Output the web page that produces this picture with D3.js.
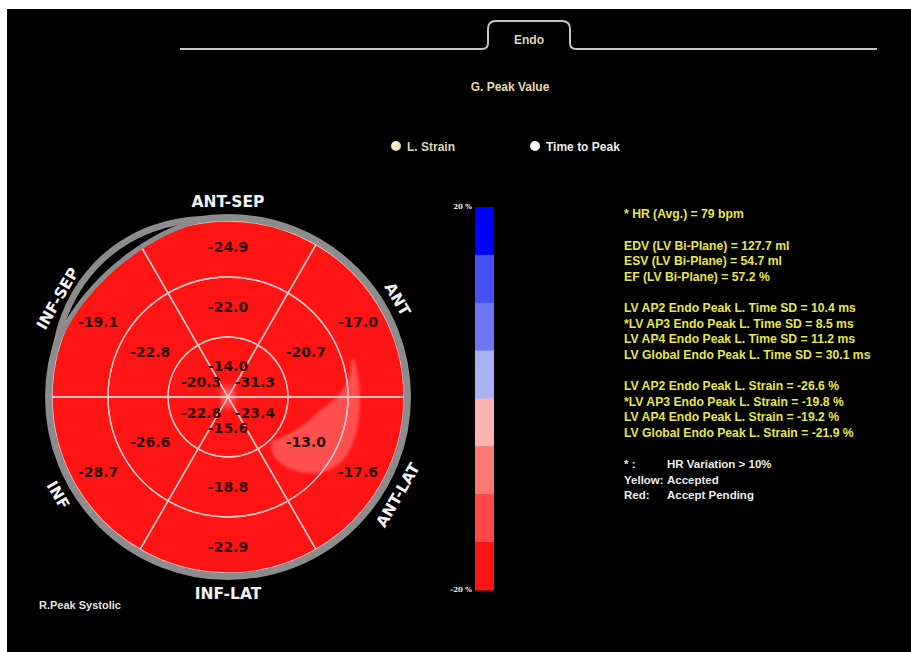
<!DOCTYPE html>
<html>
<head>
<meta charset="utf-8">
<script src="https://cdn.jsdelivr.net/npm/d3@7"></script>
<style>
  html, body { margin: 0; padding: 0; background: #ffffff; }
  svg { display: block; }
</style>
</head>
<body>
<svg id="chart" width="911" height="652"></svg>
<script>
// ---- data -------------------------------------------------------------
const segmentNames = ["ANT-SEP", "ANT", "ANT-LAT", "INF-LAT", "INF", "INF-SEP"];
const basalStrain  = [-24.9, -17.0, -17.6, -22.9, -28.7, -19.1];
const midStrain    = [-22.0, -20.7, -13.0, -18.8, -26.6, -22.8];
const apicalStrain = [-14.0, -31.3, -23.4, -15.6, -22.8, -20.3];

const scaleColors = ["#0000ff", "#4650f7", "#6e76f4", "#aab0f4",
                     "#ffb2b2", "#ff7878", "#ff4848", "#ff1414"];
const scaleDomain = [20, -20];
const scaleTickLabels = ["20 %", "-20 %"];

const legendItems = ["L. Strain", "Time to Peak"];
const legendColors = ["#e4dba2", "#ffffff"];

const summaryLines = [
  "* HR (Avg.) = 79 bpm",
  "",
  "EDV (LV Bi-Plane) = 127.7 ml",
  "ESV (LV Bi-Plane) = 54.7 ml",
  "EF (LV Bi-Plane) = 57.2 %",
  "",
  "LV AP2 Endo Peak L. Time SD = 10.4 ms",
  "*LV AP3 Endo Peak L. Time SD = 8.5 ms",
  "LV AP4 Endo Peak L. Time SD = 11.2 ms",
  "LV Global Endo Peak L. Time SD = 30.1 ms",
  "",
  "LV AP2 Endo Peak L. Strain = -26.6 %",
  "*LV AP3 Endo Peak L. Strain = -19.8 %",
  "LV AP4 Endo Peak L. Strain = -19.2 %",
  "LV Global Endo Peak L. Strain = -21.9 %",
  ""
];
const noteKeys   = ["* :", "Yellow:", "Red:"];
const noteValues = ["HR Variation > 10%", "Accepted", "Accept Pending"];

// smoothed lighter region of the strain field around the mid ANT-LAT segment
// [angle in degrees clockwise from top, radius as a fraction of the map radius]
const strainShade = [
  [72, 0.745], [84, 0.748], [97, 0.752], [110, 0.757], [121, 0.737],
  [131, 0.660], [139, 0.540], [142, 0.420], [136, 0.360], [122, 0.400],
  [108, 0.470], [97, 0.540], [90, 0.620], [82, 0.690]
];

// ---- layout -----------------------------------------------------------
const svg = d3.select("#chart");
const UI_FONT = "'Liberation Sans', Arial, sans-serif";
const MAP_FONT = "'DejaVu Sans', Verdana, sans-serif";

const defs = svg.append("defs");
defs.append("filter").attr("id", "soft")
  .attr("x", "-20%").attr("y", "-20%").attr("width", "140%").attr("height", "140%")
  .append("feGaussianBlur").attr("stdDeviation", 1.8);
defs.append("filter").attr("id", "softer")
  .attr("x", "-50%").attr("y", "-50%").attr("width", "200%").attr("height", "200%")
  .append("feGaussianBlur").attr("stdDeviation", 3);
const lg = defs.append("radialGradient").attr("id", "dotStrain")
  .attr("cx", "40%").attr("cy", "40%").attr("r", "60%");
lg.append("stop").attr("offset", "0%").attr("stop-color", "#fffbe0");
lg.append("stop").attr("offset", "100%").attr("stop-color", legendColors[0]);

// panel background
svg.append("rect").attr("x", 7).attr("y", 9).attr("width", 904).attr("height", 643)
  .attr("fill", "#000000");

// tab header
const tab = d3.path();
tab.moveTo(180, 49); tab.lineTo(482, 49);
tab.quadraticCurveTo(488, 49, 488, 43); tab.lineTo(488, 29);
tab.quadraticCurveTo(488, 21, 496, 21); tab.lineTo(562, 21);
tab.quadraticCurveTo(570, 21, 570, 29); tab.lineTo(570, 43);
tab.quadraticCurveTo(570, 49, 576, 49); tab.lineTo(877, 49);
svg.append("path").attr("d", tab.toString()).attr("fill", "none")
  .attr("stroke", "#c4c4c4").attr("stroke-width", 2);
svg.append("text").attr("x", 529).attr("y", 44).attr("text-anchor", "middle")
  .attr("font-family", UI_FONT).attr("font-weight", "bold").attr("font-size", 12)
  .attr("fill", "#dcd6bf").text("Endo");

svg.append("text").attr("x", 510).attr("y", 91).attr("text-anchor", "middle")
  .attr("font-family", UI_FONT).attr("font-weight", "bold").attr("font-size", 12)
  .attr("fill", "#e6dab0").text("G. Peak Value");

// legend
const legendX = d3.scaleOrdinal().domain(legendItems).range([396, 535]);
const lgG = svg.append("g").selectAll("g").data(legendItems).join("g")
  .attr("transform", d => `translate(${legendX(d)},146)`);
lgG.append("circle").attr("r", 5)
  .attr("fill", (d, i) => i === 0 ? "url(#dotStrain)" : legendColors[i]);
lgG.append("text").attr("x", 11).attr("y", 4.5)
  .attr("font-family", UI_FONT).attr("font-weight", "bold").attr("font-size", 12)
  .attr("fill", (d, i) => i === 0 ? "#ddd5b4" : "#ececec").text(d => d);

// ---- bull's-eye -------------------------------------------------------
const cx = 228, cy = 397;
const ringRadius = [0, 60, 120, 176];
const labelRadius = [31, 90, 150];
const angle = d3.scaleLinear().domain([0, 6]).range([-Math.PI / 6, 2 * Math.PI - Math.PI / 6]);
const rad = d => d * Math.PI / 180;
const mapColor = d3.scaleQuantize().domain([scaleDomain[1], scaleDomain[0]])
  .range(scaleColors.slice().reverse());

const rings = [apicalStrain, midStrain, basalStrain];
const segments = [];
rings.forEach((vals, ri) => vals.forEach((v, si) => segments.push({ ring: ri, seg: si, value: v })));

const bull = svg.append("g").attr("transform", `translate(${cx},${cy})`);
const arc = d3.arc()
  .innerRadius(d => ringRadius[d.ring])
  .outerRadius(d => ringRadius[d.ring + 1])
  .startAngle(d => angle(d.seg))
  .endAngle(d => angle(d.seg + 1));

// the map saturates at the scale's -20 % end
bull.selectAll("path.seg").data(segments).join("path").attr("class", "seg")
  .attr("d", arc)
  .attr("fill", mapColor(scaleDomain[1]))
  .attr("stroke", "none");

// lighter shading in the strain field
bull.append("path")
  .attr("d", d3.lineRadial()
    .angle(d => rad(d[0]))
    .radius(d => d[1] * ringRadius[3])
    .curve(d3.curveCatmullRomClosed)(strainShade))
  .attr("fill", "#ff6666").attr("opacity", 0.72).attr("filter", "url(#soft)");
// faint light patch where the apical walls meet
bull.append("ellipse").attr("rx", 7).attr("ry", 12)
  .attr("fill", "#ffa0a0").attr("opacity", 0.5).attr("filter", "url(#softer)");

// segment borders
bull.selectAll("path.border").data(segments).join("path").attr("class", "border")
  .attr("d", arc).attr("fill", "none")
  .attr("stroke", "#f6caca").attr("stroke-width", 1.4);

// outer ring
const ringMid = ringRadius[3] + 3.5;
bull.append("circle").attr("r", ringMid).attr("fill", "none")
  .attr("stroke", "#8c8c8c").attr("stroke-width", 7);

// septal double border: the ring splits into two arcs with a dark gap
const crescentT = d3.range(0, 1.0001, 0.02);
const a0 = 287, a1 = 352;
const bow = t => Math.sin(Math.PI * t);
const innerArcR = t => ringMid - 7 * bow(t);
const outerArcR = t => ringMid + 7 * bow(t);
const sweep = t => rad(a0 + (a1 - a0) * t);
bull.append("path")
  .attr("d", d3.areaRadial().angle(sweep).innerRadius(innerArcR).outerRadius(outerArcR)(crescentT))
  .attr("fill", "#000000");
bull.append("path")
  .attr("d", d3.lineRadial().angle(sweep).radius(innerArcR)(crescentT))
  .attr("fill", "none").attr("stroke", "#8c8c8c").attr("stroke-width", 5);
bull.append("path")
  .attr("d", d3.lineRadial().angle(sweep).radius(outerArcR)(crescentT))
  .attr("fill", "none").attr("stroke", "#8c8c8c").attr("stroke-width", 6.5);

// value labels
bull.selectAll("text.val").data(segments).join("text").attr("class", "val")
  .attr("x", d => labelRadius[d.ring] * Math.sin(angle(d.seg + 0.5)))
  .attr("y", d => -labelRadius[d.ring] * Math.cos(angle(d.seg + 0.5)))
  .attr("dy", "0.36em")
  .attr("text-anchor", "middle")
  .attr("font-family", MAP_FONT).attr("font-weight", "bold").attr("font-size", 14)
  .attr("fill", "#2a0606")
  .text(d => d.value.toFixed(1));

// wall names around the ring
const nameR = 196;
bull.selectAll("text.name").data(segmentNames).join("text").attr("class", "name")
  .attr("transform", (d, i) => {
    const a = angle(i + 0.5);
    const deg = a * 180 / Math.PI;
    const rot = (deg > 90 && deg < 270) ? deg - 180 : (deg >= 270 ? deg - 360 : deg);
    const r = i === 5 ? nameR + 1 : nameR;
    return `translate(${r * Math.sin(a)},${-r * Math.cos(a)}) rotate(${rot})`;
  })
  .attr("dy", "0.36em").attr("text-anchor", "middle")
  .attr("font-family", MAP_FONT).attr("font-weight", "bold").attr("font-size", 15.5)
  .attr("fill", "#f2f2f2").text(d => d);

svg.append("text").attr("x", 39).attr("y", 609)
  .attr("font-family", UI_FONT).attr("font-weight", "bold").attr("font-size", 11)
  .attr("fill", "#e2e2e2").text("R.Peak Systolic");

// ---- colour scale bar -------------------------------------------------
const barY = d3.scaleBand().domain(d3.range(scaleColors.length)).range([207, 590]);
svg.append("g").selectAll("rect").data(scaleColors).join("rect")
  .attr("x", 475).attr("width", 19)
  .attr("y", (d, i) => barY(i)).attr("height", barY.bandwidth() + 0.5)
  .attr("fill", d => d);
const tickY = d3.scaleLinear().domain(scaleDomain).range([207, 590]);
svg.append("g").selectAll("text").data(scaleDomain).join("text")
  .attr("x", 472).attr("y", d => tickY(d)).attr("dy", "0.35em")
  .attr("text-anchor", "end")
  .attr("font-family", "'DejaVu Serif', serif").attr("font-weight", "bold").attr("font-size", 7)
  .attr("fill", "#e8e8e8")
  .text((d, i) => scaleTickLabels[i]);

// ---- summary text -----------------------------------------------------
const lineY = d3.scaleLinear().domain([0, 1]).range([218.3, 233.9]);
svg.append("g").selectAll("text").data(summaryLines).join("text")
  .attr("x", 624).attr("y", (d, i) => lineY(i))
  .attr("font-family", UI_FONT).attr("font-weight", "bold").attr("font-size", 12.2)
  .attr("fill", "#e6e64a").text(d => d);

const notes = svg.append("g").selectAll("text").data(noteKeys).join("text")
  .attr("y", (d, i) => lineY(summaryLines.length + i))
  .attr("font-family", UI_FONT).attr("font-weight", "bold").attr("font-size", 11.5)
  .attr("fill", "#ececec");
notes.append("tspan").attr("x", 624).text(d => d);
notes.append("tspan").attr("x", 667).text((d, i) => noteValues[i]);
</script>
</body>
</html>
